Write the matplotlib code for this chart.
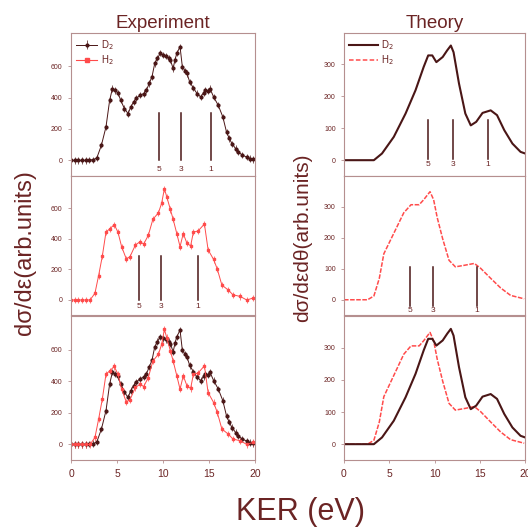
import matplotlib
matplotlib.use("Agg")
import matplotlib.pyplot as plt

plt.rcParams['font.family'] = ['Liberation Sans', 'DejaVu Sans']

# --- data ---
# experiment, D2
exp_d2_x = [0.0, 0.4, 0.8, 1.2, 1.6, 2.0, 2.4, 2.8, 3.3, 3.8, 4.2, 4.5, 4.8, 5.1, 5.4,
            5.8, 6.2, 6.5, 6.8, 7.1, 7.5, 7.9, 8.2, 8.5, 8.8, 9.1, 9.4, 9.7, 10.0, 10.3,
            10.6, 10.8, 11.1, 11.3, 11.5, 11.85, 12.1, 12.4, 12.6, 12.9, 13.3, 13.7, 14.1,
            14.4, 14.6, 14.9, 15.1, 15.5, 16.0, 16.5, 16.9, 17.2, 17.5, 17.9, 18.2, 18.6,
            19.1, 19.5, 19.8]
exp_d2_y = [0, 0, 0, 0, 0, 2, 5, 15, 96, 213, 383, 457, 445, 430, 383,
            330, 298, 340, 372, 395, 415, 425, 447, 490, 532, 617, 650, 681, 670, 664,
            650, 638, 585, 640, 681, 723, 596, 570, 553, 500, 460, 425, 404,
            430, 447, 440, 457, 404, 351, 277, 181, 140, 106, 75, 53, 35,
            21, 12, 6]

# experiment, H2
exp_h2_x = [0.0, 0.4, 0.8, 1.2, 1.6, 2.07, 2.6, 3.0, 3.4, 3.8, 4.2, 4.7, 5.1, 5.5, 6.0,
            6.4, 7.0, 7.5, 7.9, 8.4, 8.9, 9.5, 9.85, 10.15, 10.4, 10.8, 11.1, 11.5, 11.85,
            12.2, 12.6, 13.0, 13.3, 13.8, 14.5, 14.9, 15.5, 15.9, 16.4, 17.1, 17.6, 18.4,
            19.1, 19.8]
exp_h2_y = [0, 0, 0, 0, 0, 0, 44, 160, 286, 444, 465, 493, 444, 349, 270,
            282, 360, 381, 366, 423, 528, 570, 633, 728, 676, 592, 528, 434, 349,
            434, 371, 354, 444, 451, 497, 328, 265, 202, 97, 65, 34, 23,
            0, 13]

# theory, D2
th_d2_x = [0.0, 1.0, 2.0, 3.3, 4.2, 5.5, 6.8, 7.9, 8.8, 9.3, 9.75, 10.2, 10.9, 11.4,
           11.8, 12.1, 12.7, 13.4, 14.0, 14.6, 15.3, 16.2, 16.9, 17.7, 18.6, 19.5, 20.0]
th_d2_y = [0, 0, 0, 0, 21, 73, 146, 219, 292, 328, 328, 307, 323, 344,
           359, 338, 240, 146, 109, 120, 148, 156, 141, 94, 52, 26, 21]

# theory, H2
th_h2_x = [0.0, 1.0, 2.0, 2.6, 3.3, 3.9, 4.4, 5.2, 5.9, 6.6, 7.4, 8.3, 8.8, 9.5, 9.9,
           10.3, 10.9, 11.6, 12.3, 13.3, 14.4, 15.1, 16.2, 17.3, 18.4, 19.9]
th_h2_y = [0, 0, 0, 0, 12, 69, 148, 196, 238, 280, 306, 306, 322, 348, 322,
           264, 196, 127, 106, 111, 117, 101, 69, 38, 14, 3]

# vertical markers and their labels
marker_labels = ['5', '3', '1']
exp_d2_marks = [9.55, 11.95, 15.2]
exp_h2_marks = [7.4, 9.8, 13.8]
th_d2_marks = [9.3, 12.0, 15.9]
th_h2_marks = [7.3, 9.8, 14.7]

exp_err = 20

d2_color = '#4a1616'
h2_color = '#ff4b4b'
text_color = '#6b2424'
frame_color = '#b58f8f'

fig = plt.figure(figsize=(5.28, 5.29), dpi=100)

lefts = [0.1345, 0.6515]
widths = [0.3485, 0.343]
bottoms = [0.667, 0.404, 0.130]
heights = [0.2705, 0.263, 0.272]

axes = {}
for r in range(3):
    for c in range(2):
        ax = fig.add_axes([lefts[c], bottoms[r], widths[c], heights[r]])
        axes[(r, c)] = ax
        for s in ax.spines.values():
            s.set_color(frame_color)
            s.set_linewidth(0.8)
        ax.set_xlim(0, 20)
        ax.set_xticks([0, 5, 10, 15, 20])
        ax.tick_params(colors=frame_color, labelcolor=text_color, length=2.5, width=0.6,
                       direction='out')
        ax.tick_params(axis='y', labelsize=5)
        ax.tick_params(axis='x', labelsize=7.5)
        if r < 2:
            ax.tick_params(axis='x', labelbottom=False, length=0)
        if c == 0:
            ax.set_ylim(-100, 810)
            ax.set_yticks([0, 200, 400, 600])
        else:
            ax.set_ylim(-50, 398)
            ax.set_yticks([0, 100, 200, 300])


def exp_series(ax, x, y, color, marker, label=None):
    return ax.errorbar(x, y, yerr=exp_err, color=color, marker=marker, markersize=2,
                       linewidth=0.7, elinewidth=0.5, capsize=0, label=label)


def marks(ax, xs, top, bottom, label_y, color):
    for xv, lab in zip(xs, marker_labels):
        ax.plot([xv, xv], [bottom, top], color=color, linewidth=1.1)
        ax.text(xv, label_y, lab, fontsize=6, color=text_color, ha='center', va='center')


# experiment panels
ax = axes[(0, 0)]
h_d2 = exp_series(ax, exp_d2_x, exp_d2_y, d2_color, 'o', 'D$_2$')
h_h2, = ax.plot([], [], color=h2_color, marker='s', markersize=3, linewidth=0.8, label='H$_2$')
marks(ax, exp_d2_marks, 300, 0, -55, d2_color)
leg = ax.legend(handles=[h_d2, h_h2], loc='upper left', frameon=False, fontsize=7,
                handlelength=2.2, borderaxespad=0.1, labelspacing=0.2, handletextpad=0.4)
for t in leg.get_texts():
    t.set_color(text_color)
ax.set_title('Experiment', fontsize=13.5, color=text_color, pad=4)

ax = axes[(1, 0)]
exp_series(ax, exp_h2_x, exp_h2_y, h2_color, 's')
marks(ax, exp_h2_marks, 285, 0, -45, d2_color)

ax = axes[(2, 0)]
exp_series(ax, exp_d2_x, exp_d2_y, d2_color, 'o')
exp_series(ax, exp_h2_x, exp_h2_y, h2_color, 's')

# theory panels
ax = axes[(0, 1)]
t_d2, = ax.plot(th_d2_x, th_d2_y, color=d2_color, linewidth=1.5, label='D$_2$')
t_h2, = ax.plot([], [], color=h2_color, linewidth=1.1, dashes=(3, 1.5), label='H$_2$')
marks(ax, th_d2_marks, 125, 5, -15, d2_color)
leg = ax.legend(handles=[t_d2, t_h2], loc='upper left', frameon=False, fontsize=7,
                handlelength=3, borderaxespad=0.1, labelspacing=0.2, handletextpad=0.3)
for t in leg.get_texts():
    t.set_color(text_color)
ax.set_title('Theory', fontsize=13.5, color=text_color, pad=4)

ax = axes[(1, 1)]
ax.plot(th_h2_x, th_h2_y, color=h2_color, linewidth=1.1, dashes=(3, 1.0))
marks(ax, th_h2_marks, 105, -20, -35, d2_color)

ax = axes[(2, 1)]
ax.plot(th_h2_x, th_h2_y, color=h2_color, linewidth=1.1, dashes=(3, 1.0))
ax.plot(th_d2_x, th_d2_y, color=d2_color, linewidth=1.5)

# shared labels
fig.text(25 / 528, 1 - 253 / 529, 'dσ/dε(arb.units)', rotation=90, fontsize=17,
         color=text_color, ha='center', va='center')
fig.text(303 / 528, 1 - 238 / 529, 'dσ/dεdθ(arb.units)', rotation=90, fontsize=15,
         color=text_color, ha='center', va='center')
fig.text(300 / 528, 1 - 512 / 529, 'KER (eV)', fontsize=22, color=text_color,
         ha='center', va='center')

fig.savefig('out.png', dpi=100)
